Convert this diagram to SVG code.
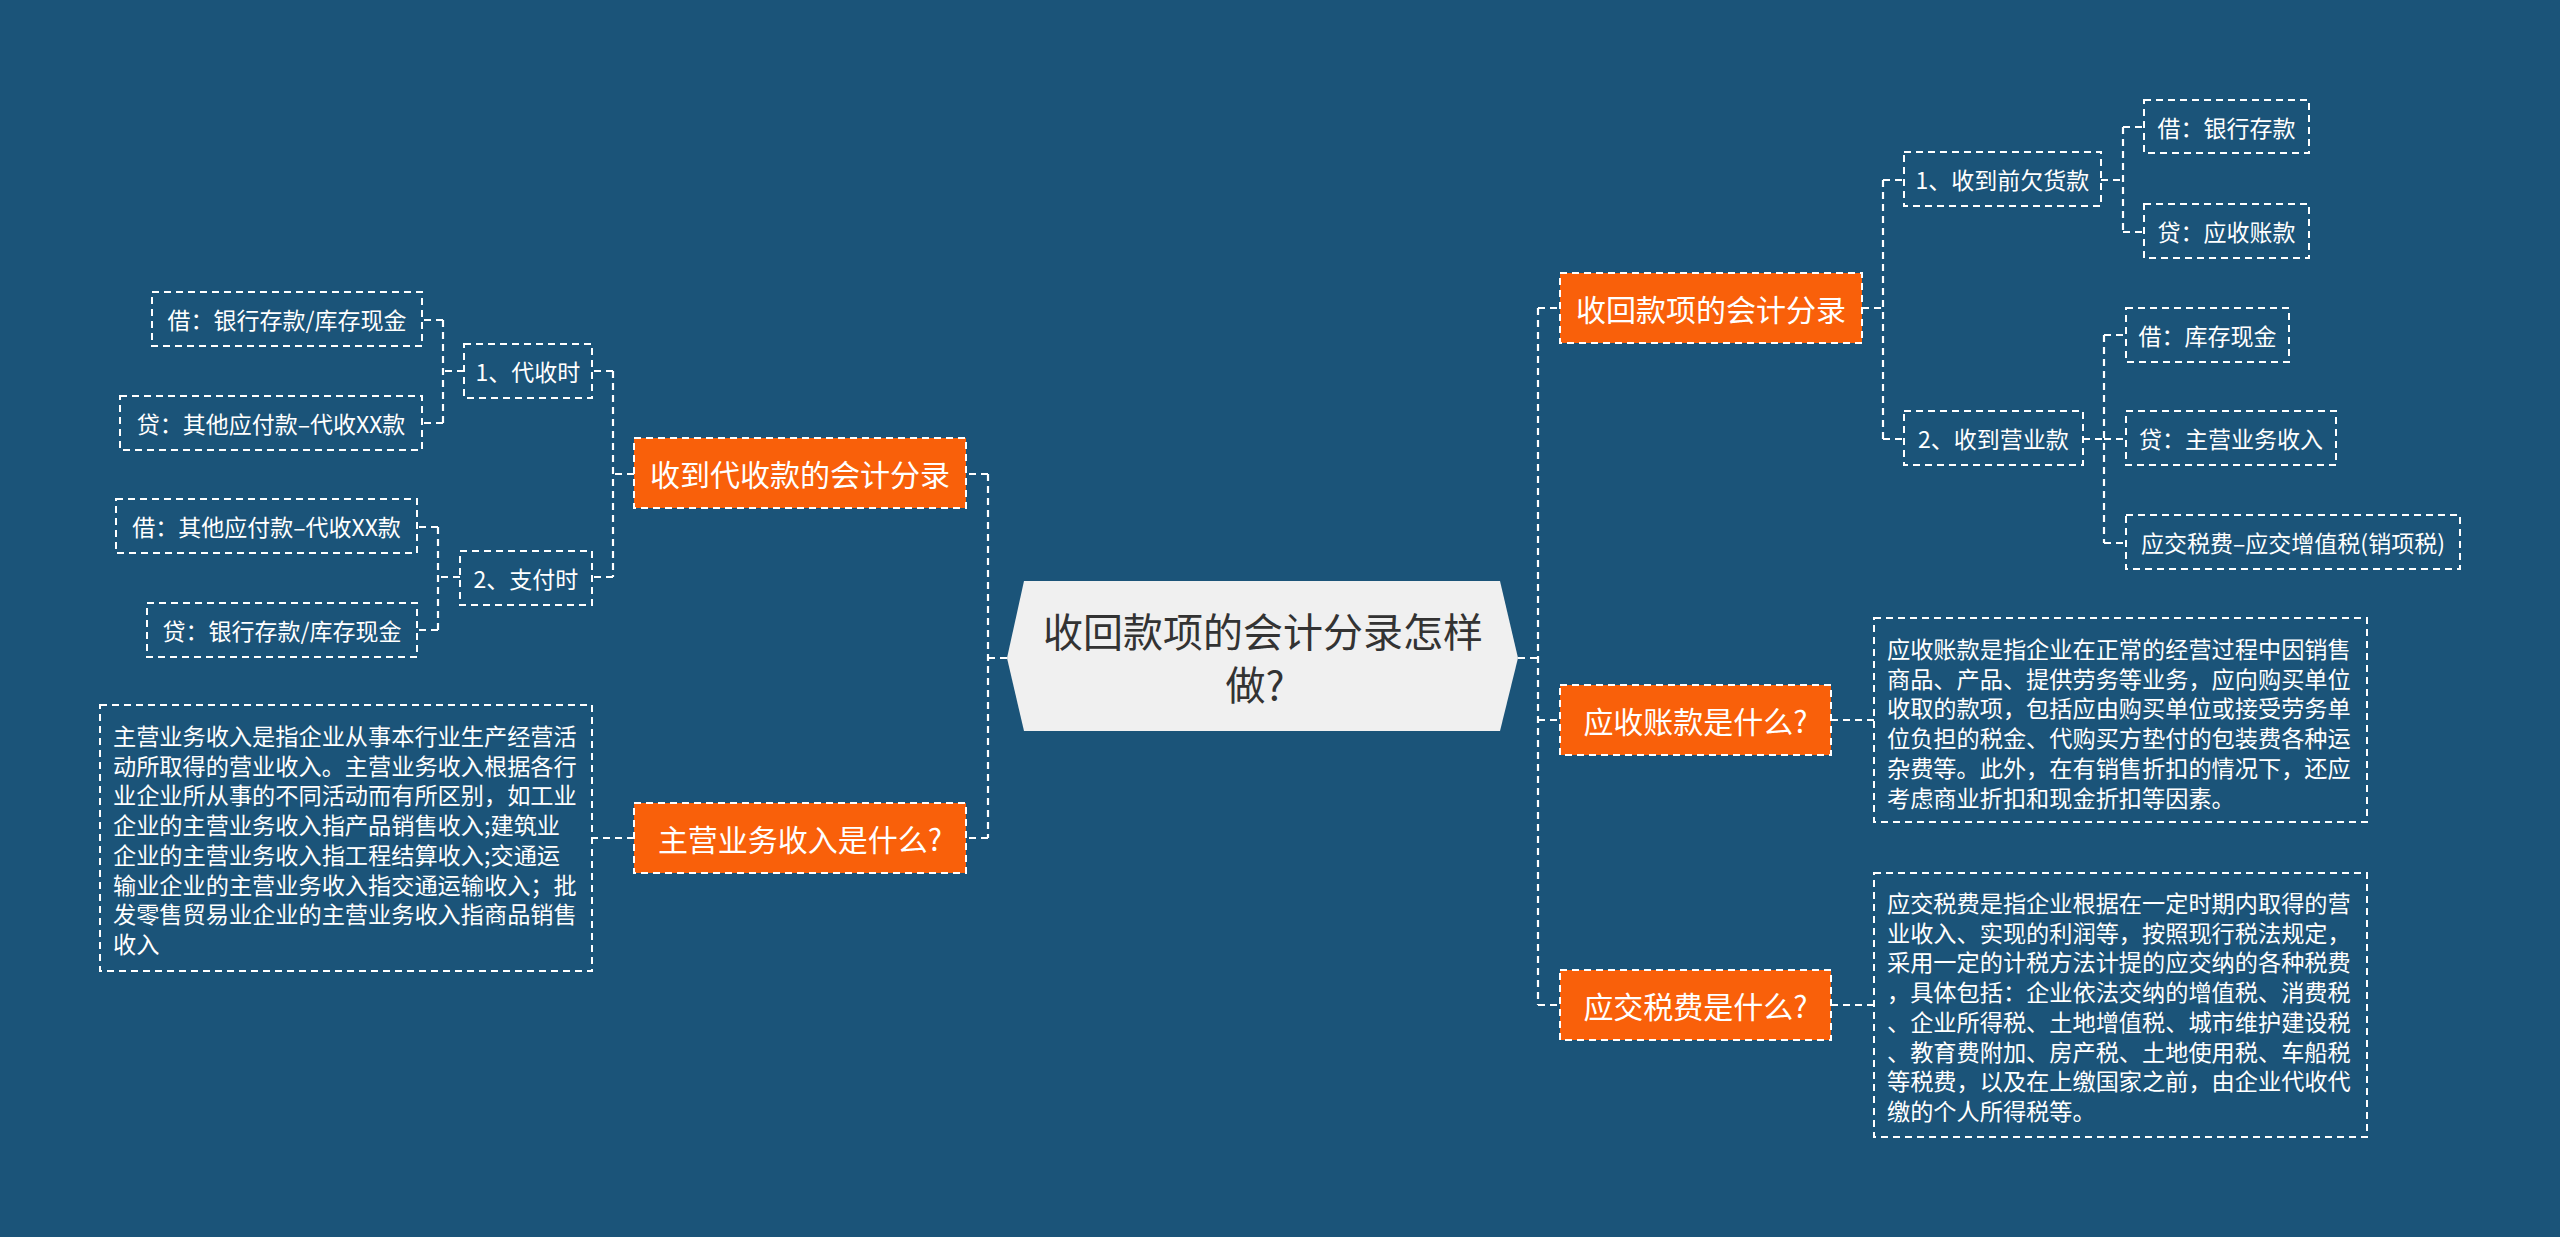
<svg xmlns="http://www.w3.org/2000/svg" width="2560" height="1237" viewBox="0 0 2560 1237">
<style>
text{font-family:"Noto Sans CJK SC","Noto Sans",sans-serif;fill:#ffffff;dominant-baseline:central}
.c{text-anchor:middle}
.t1{font-size:30px}
.t2{font-size:23px}
.d{font-size:23.2px}
.root{font-size:40px;fill:#333333}
.o{fill:#f9600a;stroke:#ffffff;stroke-width:2;stroke-dasharray:7 5}
.b{fill:none;stroke:#ffffff;stroke-width:2;stroke-dasharray:7 5}
.ln{fill:none;stroke:#ffffff;stroke-width:2.2;stroke-dasharray:7 5}
</style>
<rect width="2560" height="1237" fill="#1b5479"/>
<g id="connectors">
<path class="ln" d="M1518,658H1538M1538,308V1005M1538,308H1560M1538,720H1560M1538,1005H1560"/>
<path class="ln" d="M1862,308H1883M1883,180V439M1883,180H1904M1883,439H1904"/>
<path class="ln" d="M2101,180H2123M2123,127V232M2123,127H2144M2123,232H2144"/>
<path class="ln" d="M2083,439H2104M2104,335V543M2104,335H2126M2104,439H2126M2104,543H2126"/>
<path class="ln" d="M1831,720H1874M1831,1005H1874"/>
<path class="ln" d="M1007,658H988M988,474V838M988,474H966M988,838H966"/>
<path class="ln" d="M634,474H613M613,371V577M613,371H592M613,577H592"/>
<path class="ln" d="M464,371H443M443,320V423M443,320H422M443,423H422"/>
<path class="ln" d="M460,577H438M438,527V630M438,527H417M438,630H417"/>
<path class="ln" d="M634,838H592"/>
</g>
<g id="root">
<polygon points="1007,658 1024,581 1500,581 1518,658 1500,731 1024,731" fill="#f0f0f0"/>
<text class="root c" x="1263" y="630">收回款项的会计分录怎样</text>
<text class="root c" x="1255" y="683">做?</text>
</g>
<g id="r1">
<rect class="o" x="1560" y="273" width="302" height="70"/>
<text class="t1 c" x="1711" y="308">收回款项的会计分录</text>
</g>
<g id="r1a">
<rect class="b" x="1904" y="152" width="197" height="54"/>
<text class="t2 c" x="2002.5" y="179">1、收到前欠货款</text>
</g>
<g id="r1a1">
<rect class="b" x="2144" y="100" width="165" height="53"/>
<text class="t2 c" x="2226.5" y="126.5">借：银行存款</text>
</g>
<g id="r1a2">
<rect class="b" x="2144" y="204" width="165" height="54"/>
<text class="t2 c" x="2226.5" y="231">贷：应收账款</text>
</g>
<g id="r1b">
<rect class="b" x="1904" y="411" width="179" height="54"/>
<text class="t2 c" x="1993.5" y="438">2、收到营业款</text>
</g>
<g id="r1b1">
<rect class="b" x="2126" y="308" width="163" height="54"/>
<text class="t2 c" x="2207.5" y="335">借：库存现金</text>
</g>
<g id="r1b2">
<rect class="b" x="2126" y="411" width="210" height="54"/>
<text class="t2 c" x="2231" y="438">贷：主营业务收入</text>
</g>
<g id="r1b3">
<rect class="b" x="2126" y="515" width="334" height="54"/>
<text class="t2 c" x="2293" y="542">应交税费–应交增值税(销项税)</text>
</g>
<g id="r2">
<rect class="o" x="1560" y="685" width="271" height="70"/>
<text class="t1 c" x="1695.5" y="720">应收账款是什么?</text>
</g>
<g id="r2d">
<rect class="b" x="1874" y="618" width="493" height="204"/>
<text class="d" x="1887" y="648">应收账款是指企业在正常的经营过程中因销售</text>
<text class="d" x="1887" y="677.7">商品、产品、提供劳务等业务，应向购买单位</text>
<text class="d" x="1887" y="707.4">收取的款项，包括应由购买单位或接受劳务单</text>
<text class="d" x="1887" y="737.1">位负担的税金、代购买方垫付的包装费各种运</text>
<text class="d" x="1887" y="766.8">杂费等。此外，在有销售折扣的情况下，还应</text>
<text class="d" x="1887" y="796.5">考虑商业折扣和现金折扣等因素。</text>
</g>
<g id="r3">
<rect class="o" x="1560" y="970" width="271" height="70"/>
<text class="t1 c" x="1695.5" y="1005">应交税费是什么?</text>
</g>
<g id="r3d">
<rect class="b" x="1874" y="873" width="493" height="264"/>
<text class="d" x="1887" y="902">应交税费是指企业根据在一定时期内取得的营</text>
<text class="d" x="1887" y="931.7">业收入、实现的利润等，按照现行税法规定，</text>
<text class="d" x="1887" y="961.4">采用一定的计税方法计提的应交纳的各种税费</text>
<text class="d" x="1887" y="991.1">，具体包括：企业依法交纳的增值税、消费税</text>
<text class="d" x="1887" y="1020.8">、企业所得税、土地增值税、城市维护建设税</text>
<text class="d" x="1887" y="1050.5">、教育费附加、房产税、土地使用税、车船税</text>
<text class="d" x="1887" y="1080.2">等税费，以及在上缴国家之前，由企业代收代</text>
<text class="d" x="1887" y="1109.9">缴的个人所得税等。</text>
</g>
<g id="l1">
<rect class="o" x="634" y="438" width="332" height="70"/>
<text class="t1 c" x="800" y="473">收到代收款的会计分录</text>
</g>
<g id="l1a">
<rect class="b" x="464" y="344" width="128" height="54"/>
<text class="t2 c" x="528" y="371">1、代收时</text>
</g>
<g id="l1a1">
<rect class="b" x="152" y="292" width="270" height="54"/>
<text class="t2 c" x="287" y="319">借：银行存款/库存现金</text>
</g>
<g id="l1a2">
<rect class="b" x="120" y="396" width="302" height="54"/>
<text class="t2 c" x="271" y="423">贷：其他应付款–代收XX款</text>
</g>
<g id="l1b">
<rect class="b" x="460" y="551" width="132" height="54"/>
<text class="t2 c" x="526" y="578">2、支付时</text>
</g>
<g id="l1b1">
<rect class="b" x="116" y="499" width="301" height="54"/>
<text class="t2 c" x="266.5" y="526">借：其他应付款–代收XX款</text>
</g>
<g id="l1b2">
<rect class="b" x="147" y="603" width="270" height="54"/>
<text class="t2 c" x="282" y="630">贷：银行存款/库存现金</text>
</g>
<g id="l2">
<rect class="o" x="634" y="803" width="332" height="70"/>
<text class="t1 c" x="800" y="838">主营业务收入是什么?</text>
</g>
<g id="l2d">
<rect class="b" x="100" y="705" width="492" height="266"/>
<text class="d" x="113" y="735">主营业务收入是指企业从事本行业生产经营活</text>
<text class="d" x="113" y="764.7">动所取得的营业收入。主营业务收入根据各行</text>
<text class="d" x="113" y="794.4">业企业所从事的不同活动而有所区别，如工业</text>
<text class="d" x="113" y="824.1">企业的主营业务收入指产品销售收入;建筑业</text>
<text class="d" x="113" y="853.8">企业的主营业务收入指工程结算收入;交通运</text>
<text class="d" x="113" y="883.5">输业企业的主营业务收入指交通运输收入；批</text>
<text class="d" x="113" y="913.2">发零售贸易业企业的主营业务收入指商品销售</text>
<text class="d" x="113" y="942.9">收入</text>
</g>
</svg>
